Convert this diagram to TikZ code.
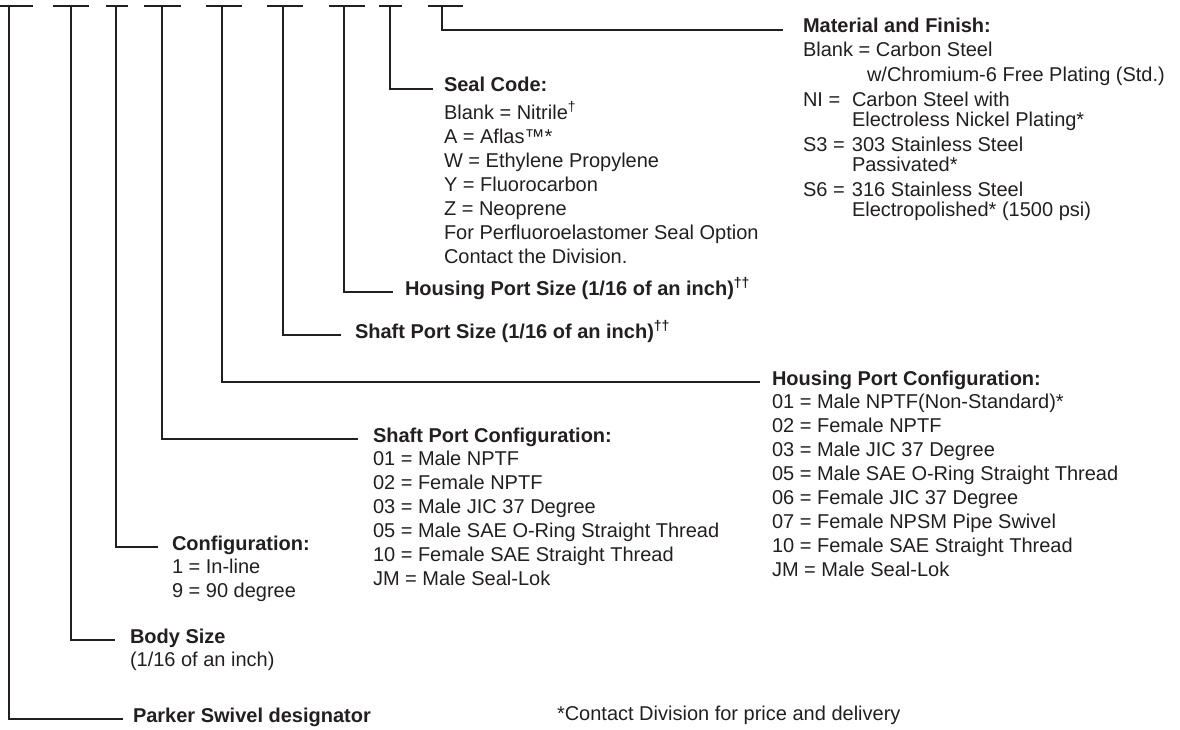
\documentclass[tikz,border=0pt]{standalone}
\usepackage{fontspec}
\setmainfont{Liberation Sans}
\usetikzlibrary{positioning}
\definecolor{ink}{HTML}{231F20}

\begin{document}
\begin{tikzpicture}[
  x=1pt, y=-1pt,
  blank/.style={line width=1.8pt, draw=ink},
  leader/.style={line width=1.8pt, draw=ink, shorten >=#1},
  leader/.default=12pt,
  head/.style={font=\fontsize{20}{24}\selectfont\bfseries, text=ink, inner sep=0pt, outer sep=0pt, anchor=base west},
  items/.style={font=\fontsize{20}{24}\selectfont, text=ink, inner sep=0pt, outer sep=0pt, align=left},
]
  \useasboundingbox (0,0) rectangle (1180,730);

  % Part number blanks
  \foreach \a/\b in {0/33, 53/89, 106/128, 144/181, 206/242, 267/303, 329/365, 379/402, 428/463}
    \draw[blank] (\a,6) -- (\b,6);
  \foreach \x/\n in {9/1, 71/2, 116/3, 162/4, 222/5, 283/6, 344/7, 390/8, 442/9}
    \coordinate (t\n) at (\x,6);

  % Material and finish
  \node[head] (mat) at (803,33) {Material and Finish:};
  \node[items, font=\fontsize{20}{25}\selectfont, below right=9.5pt and 0pt of mat.base west] (mattxt) {Blank = Carbon Steel\\
    \hspace*{64pt}w/Chromium-6 Free Plating (Std.)\\
    \makebox[49pt][l]{NI =}Carbon Steel with\\[-5pt]
    \hspace*{49pt}Electroless Nickel Plating*\\
    \makebox[49pt][l]{S3 =}303 Stainless Steel\\[-5pt]
    \hspace*{49pt}Passivated*\\
    \makebox[49pt][l]{S6 =}316 Stainless Steel\\[-5pt]
    \hspace*{49pt}Electropolished* (1500 psi)};

  % Seal code
  \node[head] (seal) at (444,92) {Seal Code:};
  \node[items, below right=9.5pt and 0pt of seal.base west] (sealtxt) {Blank = Nitrile\textsuperscript{†}\\
    A = Aflas™*\\
    W = Ethylene Propylene\\
    Y = Fluorocarbon\\
    Z = Neoprene\\
    For Perfluoroelastomer Seal Option\\
    Contact the Division.};

  % Port sizes
  \node[head] (hps) at (405,295) {Housing Port Size (1/16 of an inch)\textsuperscript{††}};
  \node[head] (sps) at (355,338) {Shaft Port Size (1/16 of an inch)\textsuperscript{††}};

  % Housing port configuration
  \node[head] (hpc) at (772,385) {Housing Port Configuration:};
  \node[items, below right=9.5pt and 0pt of hpc.base west] (hpctxt) {01 = Male NPTF(Non-Standard)*\\
    02 = Female NPTF\\
    03 = Male JIC 37 Degree\\
    05 = Male SAE O-Ring Straight Thread\\
    06 = Female JIC 37 Degree\\
    07 = Female NPSM Pipe Swivel\\
    10 = Female SAE Straight Thread\\
    JM = Male Seal-Lok};

  % Shaft port configuration
  \node[head] (spc) at (373,442) {Shaft Port Configuration:};
  \node[items, below right=9.5pt and 0pt of spc.base west] (spctxt) {01 = Male NPTF\\
    02 = Female NPTF\\
    03 = Male JIC 37 Degree\\
    05 = Male SAE O-Ring Straight Thread\\
    10 = Female SAE Straight Thread\\
    JM = Male Seal-Lok};

  % Configuration, body size, designator
  \node[head] (conf) at (172,550) {Configuration:};
  \node[items, below right=9.5pt and 0pt of conf.base west] (conftxt) {1 = In-line\\
    9 = 90 degree};
  \node[head] (body) at (130,643) {Body Size};
  \node[items, below right=9.5pt and 0pt of body.base west] (bodytxt) {(1/16 of an inch)};
  \node[head] (parker) at (133,722) {Parker Swivel designator};

  \node[items, anchor=base west] (note) at (557,720) {*Contact Division for price and delivery};

  % Leaders
  \draw[leader=10pt] (t1) |- (parker.mid west);
  \draw[leader=15pt] (t2) |- (body.mid west);
  \draw[leader=14pt] (t3) |- (conf.mid west);
  \draw[leader=15pt] (t4) |- (spc.mid west);
  \draw[leader=12pt] (t5) |- (hpc.mid west);
  \draw[leader=14pt] (t6) |- (sps.mid west);
  \draw[leader=12pt] (t7) |- (hps.mid west);
  \draw[leader=11pt] (t8) |- (seal.mid west);
  \draw[leader=20pt] (t9) |- (mat.mid west);
\end{tikzpicture}
\end{document}
